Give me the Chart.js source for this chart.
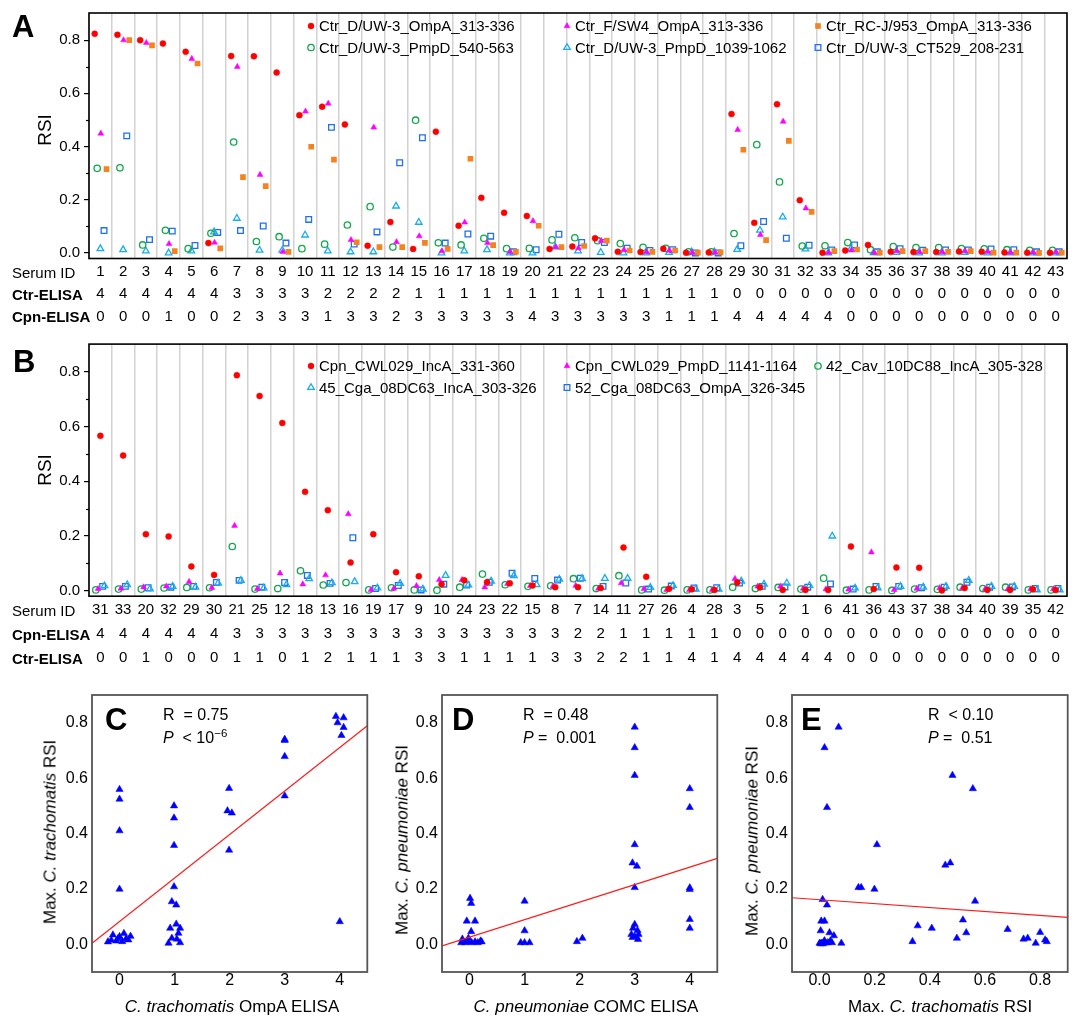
<!DOCTYPE html>
<html><head><meta charset="utf-8">
<script src="https://cdn.jsdelivr.net/npm/chart.js@4.4.1/dist/chart.umd.min.js"></script>
<style>
html,body{margin:0;padding:0;background:#fff;}
#page{position:relative;width:1079px;height:1019px;overflow:hidden;background:#fff;font-family:"Liberation Sans",Arial,Helvetica,sans-serif;color:#000;}
canvas{position:absolute;}
.t{position:absolute;white-space:nowrap;line-height:1;}
.t sup{font-size:0.72em;vertical-align:0.5em;line-height:0;}
</style></head><body>
<div id="page">
<canvas id="cA" width="1079" height="330" style="left:0;top:0"></canvas>
<canvas id="cB" width="1079" height="340" style="left:0;top:330px"></canvas>
<canvas id="cC" width="372" height="349" style="left:0;top:670px"></canvas>
<canvas id="cD" width="350" height="349" style="left:372px;top:670px"></canvas>
<canvas id="cE" width="357" height="349" style="left:722px;top:670px"></canvas>
</div>
<script>
// ---------------- DATA ----------------
const rsiTicks = [0, 0.2, 0.4, 0.6, 0.8];
const elisaTicks = [0, 1, 2, 3, 4];

// Panel A
const serumIdsA = [1,2,3,4,5,6,7,8,9,10,11,12,13,14,15,16,17,18,19,20,21,22,23,24,25,26,27,28,29,30,31,32,33,34,35,36,37,38,39,40,41,42,43];
const ctrElisaA = [4,4,4,4,4,4,3,3,3,3,2,2,2,2,1,1,1,1,1,1,1,1,1,1,1,1,1,1,0,0,0,0,0,0,0,0,0,0,0,0,0,0,0];
const cpnElisaA = [0,0,0,1,0,0,2,3,3,3,1,3,3,2,3,3,3,3,3,4,3,3,3,3,3,1,1,1,4,4,4,4,4,0,0,0,0,0,0,0,0,0,0];
const ctrD_OmpA = [0.824,0.82,0.80,0.787,0.756,0.037,0.74,0.739,0.678,0.518,0.55,0.483,0.027,0.116,0.015,0.456,0.102,0.207,0.151,0.139,0.015,0.024,0.055,0.004,0.003,0.016,0.001,0.002,0.522,0.113,0.559,0.198,0.001,0.009,0.03,0.004,0.003,0.003,0.005,0.004,0.002,0.001,0.001];
const ctrF_OmpA = [0.449,0.80,0.79,0.034,0.73,0.039,0.70,0.294,0.004,0.532,0.562,0.049,0.472,0.041,0.063,0.007,0.115,0.038,0.004,0.12,0.022,0.018,0.046,0.012,0.003,0.009,0.001,0.002,0.463,0.068,0.494,0.168,0.001,0.01,0.001,0.007,0.003,0.003,0.007,0.004,0.001,0.002,0.003];
const ctrRCJ_OmpA = [0.315,0.80,0.78,0.007,0.712,0.017,0.285,0.251,0.004,0.399,0.351,0.04,0.022,0.022,0.038,0.015,0.354,0.029,0.004,0.102,0.022,0.026,0.046,0.009,0.004,0.009,0.001,0.002,0.388,0.048,0.421,0.154,0.007,0.013,0.001,0.007,0.007,0.004,0.007,0.001,0.001,0.0,0.001];
const ctrD_PmpD540 = [0.318,0.32,0.03,0.085,0.016,0.074,0.417,0.043,0.061,0.016,0.033,0.105,0.174,0.022,0.499,0.038,0.03,0.055,0.016,0.017,0.049,0.057,0.046,0.035,0.021,0.017,0.004,0.004,0.073,0.407,0.267,0.026,0.027,0.039,0.012,0.024,0.02,0.02,0.016,0.015,0.012,0.01,0.01];
const ctrD_PmpD1039 = [0.016,0.012,0.007,0.0,0.007,0.079,0.13,0.01,0.01,0.067,0.007,0.004,0.004,0.176,0.115,0.0,0.007,0.012,0.0,0.0,0.022,0.007,0.002,0.0,0.0,0.002,0.004,0.004,0.013,0.085,0.135,0.015,0.0,0.016,0.001,0.002,0.0,0.0,0.002,0.0,0.0,0.0,0.0];
const ctrD_CT529 = [0.084,0.44,0.05,0.082,0.028,0.077,0.084,0.101,0.037,0.126,0.472,0.033,0.079,0.339,0.433,0.037,0.071,0.063,0.004,0.012,0.07,0.039,0.039,0.018,0.009,0.012,0.0,0.0,0.027,0.118,0.055,0.029,0.011,0.03,0.004,0.016,0.01,0.011,0.011,0.015,0.012,0.004,0.004];

// Panel B
const serumIdsB = [31,33,20,32,29,30,21,25,12,18,13,16,19,17,9,10,24,23,22,15,8,7,14,11,27,26,4,28,3,5,2,1,6,41,36,43,37,38,34,40,39,35,42];
const cpnElisaB = [4,4,4,4,4,4,3,3,3,3,3,3,3,3,3,3,3,3,3,3,3,2,2,1,1,1,1,1,0,0,0,0,0,0,0,0,0,0,0,0,0,0,0];
const ctrElisaB = [0,0,1,0,0,0,1,1,0,1,2,1,1,1,3,3,1,1,1,1,3,3,2,2,1,1,4,1,4,4,4,4,4,0,0,0,0,0,0,0,0,0,0];
const cpnCWL029_IncA = [0.566,0.494,0.206,0.198,0.088,0.057,0.788,0.712,0.613,0.361,0.294,0.102,0.206,0.067,0.052,0.023,0.037,0.03,0.026,0.018,0.012,0.012,0.009,0.157,0.05,0.006,0.004,0.002,0.029,0.011,0.002,0.002,0.002,0.161,0.005,0.084,0.083,0.0,0.009,0.002,0.002,0.004,0.002];
const cpnCWL029_PmpD = [0.006,0.007,0.012,0.015,0.032,0.01,0.237,0.006,0.063,0.023,0.056,0.28,0.002,0.007,0.017,0.039,0.039,0.012,0.024,0.017,0.015,0.018,0.007,0.027,0.006,0.002,0.002,0.002,0.043,0.015,0.015,0.007,0.005,0.004,0.14,0.002,0.007,0.009,0.009,0.005,0.005,0.005,0.005];
const cav10DC88_IncA = [0.002,0.005,0.005,0.009,0.011,0.01,0.161,0.005,0.007,0.072,0.02,0.029,0.002,0.01,0.002,0.001,0.012,0.06,0.021,0.015,0.017,0.043,0.007,0.054,0.002,0.001,0.002,0.002,0.012,0.007,0.011,0.005,0.045,0.001,0.002,0.0,0.005,0.004,0.012,0.007,0.012,0.002,0.002];
const cga08DC63_IncA = [0.017,0.021,0.006,0.015,0.012,0.027,0.037,0.009,0.021,0.043,0.028,0.032,0.009,0.026,0.005,0.055,0.02,0.034,0.054,0.021,0.041,0.043,0.044,0.044,0.011,0.018,0.005,0.005,0.034,0.023,0.027,0.018,0.199,0.009,0.009,0.015,0.012,0.015,0.037,0.015,0.015,0.002,0.002];
const cga08DC63_OmpA = [0.015,0.015,0.01,0.012,0.015,0.029,0.037,0.012,0.029,0.055,0.026,0.193,0.007,0.018,0.002,0.023,0.02,0.03,0.063,0.044,0.038,0.045,0.015,0.027,0.005,0.016,0.009,0.01,0.027,0.015,0.013,0.012,0.024,0.005,0.015,0.015,0.01,0.012,0.03,0.012,0.013,0.007,0.007];

// Panel C
const ctrElisaC = [0,0,0,0,-0.21,-0.15,-0.12,-0.06,-0.03,0,0.05,0.08,0.12,0.16,0.2,0.99,0.99,0.99,0.99,0.95,1.03,1.03,0.92,1.1,1.07,0.95,1.04,0.89,1.1,1.99,1.96,2.04,1.99,3,3,3,3,3.93,4.07,3.96,4.07,4.03,4.0];
const maxCtrRsiC = [0.559,0.524,0.41,0.199,0.009,0.015,0.034,0.012,0.02,0.028,0.01,0.039,0.02,0.016,0.029,0.5,0.456,0.357,0.208,0.154,0.142,0.073,0.058,0.058,0.04,0.022,0.019,0.004,0.006,0.563,0.482,0.474,0.34,0.74,0.736,0.678,0.536,0.823,0.818,0.8,0.783,0.754,0.082];
const fitCx = [-0.5, 4.5], fitCy = [0.004, 0.789];

// Panel D
const cpnElisaD = [4,4,4,4,4,4,3,3,3,3,2.96,3.04,3,3,2.97,3.05,2.94,3.07,3,3.06,2.96,1.95,2.05,1,1,0.93,1,1.09,0.01,0.03,-0.05,0.1,0.03,-0.13,-0.15,-0.08,-0.02,0.04,0.1,0.15,0.2,0.22,-0.02];
const maxCpnRsiD = [0.562,0.494,0.204,0.198,0.09,0.058,0.784,0.71,0.61,0.36,0.294,0.282,0.205,0.072,0.058,0.05,0.036,0.036,0.028,0.018,0.025,0.01,0.022,0.156,0.049,0.006,0.006,0.006,0.166,0.148,0.084,0.084,0.046,0.019,0.006,0.006,0.009,0.006,0.009,0.006,0.012,0.009,0.022];
const fitDx = [-0.5, 4.5], fitDy = [-0.006, 0.31];

// Panel E
const maxCtrRsiE = [0.069,0.018,0.027,0.482,0.556,0.208,0.456,0.474,0.141,0.151,0.199,0.564,0.011,0.027,0.006,0.018,0.004,0.036,0.052,0.079,0.0,0.008,0.018,0.03,0.039,0.337,0.356,0.407,0.498,0.52,0.532,0.682,0.74,0.755,0.784,0.8,0.818,0.824,0.012,0.022,0.045,0.016,0.004];
const maxCpnRsiE = [0.784,0.71,0.494,0.61,0.562,0.36,0.286,0.294,0.205,0.205,0.199,0.156,0.162,0.142,0.084,0.084,0.049,0.042,0.031,0.004,0.004,0.004,0.013,0.006,0.012,0.01,0.067,0.058,0.022,0.088,0.042,0.054,0.019,0.022,0.004,0.043,0.016,0.01,0.002,0.005,0.006,0.009,0.002];
const fitEx = [-0.1, 0.9], fitEy = [0.168, 0.097];

// ---------------- HELPERS ----------------
const FONT = '"Liberation Sans", Arial, Helvetica, sans-serif';
Chart.defaults.font.family = FONT;
Chart.defaults.color = '#000';
Chart.defaults.animation = false;

function drawMarker(ctx, shape, x, y, r, fill, stroke, bw) {
  ctx.save();
  ctx.beginPath();
  if (shape === 'circle') ctx.arc(x, y, r, 0, Math.PI * 2);
  else if (shape === 'triangle') {
    for (let k = 0; k < 3; k++) {
      const a = k * 2 * Math.PI / 3;
      const px = x + Math.sin(a) * r, py = y - Math.cos(a) * r;
      if (k) ctx.lineTo(px, py); else ctx.moveTo(px, py);
    }
    ctx.closePath();
  } else { const s = r * Math.SQRT1_2; ctx.rect(x - s, y - s, 2 * s, 2 * s); }
  ctx.fillStyle = fill; ctx.fill();
  if (bw > 0) { ctx.lineWidth = bw; ctx.strokeStyle = stroke; ctx.stroke(); }
  ctx.restore();
}

const legendPlugin = {
  id: 'customLegend',
  afterDraw(chart, args, o) {
    if (!o || !o.items) return;
    const ctx = chart.ctx;
    ctx.save();
    ctx.font = '15px ' + FONT;
    ctx.textBaseline = 'middle';
    o.items.forEach(it => {
      const ds = chart.data.datasets[it.ds];
      drawMarker(ctx, ds.pointStyle, it.x, it.y, ds.pointRadius, ds.pointBackgroundColor, ds.pointBorderColor, ds.pointBorderWidth);
      ctx.fillStyle = '#000';
      ctx.fillText(ds.label, it.x + 8, it.y + 1);
    });
    ctx.restore();
  }
};
const framePlugin = {
  id: 'frame',
  afterDraw(chart, args, o) {
    const { left, top, right, bottom } = chart.chartArea;
    const ctx = chart.ctx;
    ctx.save();
    ctx.strokeStyle = o.color || '#000';
    ctx.lineWidth = o.width || 1.5;
    ctx.strokeRect(left, top, right - left, bottom - top);
    ctx.restore();
  }
};
const minorTickPlugin = {
  id: 'minorTicks',
  afterDraw(chart, args, o) {
    if (!o || !o.values) return;
    const ys = chart.scales.y, ctx = chart.ctx, left = chart.chartArea.left;
    ctx.save();
    ctx.strokeStyle = '#000'; ctx.lineWidth = 1.2;
    o.values.forEach(v => {
      const p = Math.round(ys.getPixelForValue(v)) + 0.5;
      ctx.beginPath(); ctx.moveTo(left - o.len, p); ctx.lineTo(left, p); ctx.stroke();
    });
    ctx.restore();
  }
};

const STY = {
  red:  { shape: 'circle',   r: 3.0, fill: '#ff0000', stroke: '#ff0000', bw: 0.5 },
  mag:  { shape: 'triangle', r: 3.4, fill: '#ff00ff', stroke: '#ff00ff', bw: 0.5 },
  ora:  { shape: 'rect',     r: 4.0, fill: '#f5821f', stroke: '#f5821f', bw: 0 },
  grn:  { shape: 'circle',   r: 3.2, fill: 'rgba(0,0,0,0)', stroke: '#11a84b', bw: 1.3 },
  cya:  { shape: 'triangle', r: 3.8, fill: 'rgba(0,0,0,0)', stroke: '#17adee', bw: 1.3 },
  blu:  { shape: 'rect',     r: 4.0, fill: 'rgba(0,0,0,0)', stroke: '#1e6ff1', bw: 1.3 }
};

function makeStrip(canvasId, o) {
  const datasets = o.series.map(s => ({
    label: s.label,
    data: s.values.map((v, i) => ({ x: i + 1 + s.dx, y: v })),
    pointStyle: s.st.shape, pointRadius: s.st.r, pointHoverRadius: s.st.r,
    pointBackgroundColor: s.st.fill, pointBorderColor: s.st.stroke, pointBorderWidth: s.st.bw,
    showLine: false
  }));
  return new Chart(document.getElementById(canvasId), {
    type: 'scatter',
    data: { datasets },
    options: {
      responsive: false, animation: false, events: [],
      layout: { padding: { left: 0, right: o.padRight, top: o.padTop, bottom: 0 } },
      plugins: {
        legend: { display: false }, tooltip: { enabled: false },
        customLegend: { items: o.legendItems },
        frame: { color: '#000', width: 1.6 },
        minorTicks: { values: [0.1, 0.3, 0.5, 0.7], len: 3 }
      },
      scales: {
        x: {
          type: 'linear', min: 0.5, max: o.ids.length + 0.5,
          afterBuildTicks: s => { s.ticks = o.ids.map((_, i) => ({ value: i + 1 })); },
          afterFit: s => { s.height = o.xHeight; },
          grid: { offset: true, color: '#d2d2d2', lineWidth: 1.5, drawTicks: false },
          border: { display: false },
          ticks: { autoSkip: false, maxRotation: 0, minRotation: 0, padding: 2,
                   font: { size: 15, lineHeight: o.lineHeight },
                   callback: (v, i) => [String(o.ids[i]), String(o.row2[i]), String(o.row3[i])] }
        },
        y: {
          type: 'linear', min: -0.021, max: 0.902,
          afterBuildTicks: s => { s.ticks = rsiTicks.map(v => ({ value: v })); },
          afterFit: s => { s.width = 89; },
          grid: { drawOnChartArea: false, tickLength: 5, color: '#000', lineWidth: 1.2 },
          border: { display: false },
          ticks: { padding: 4, font: { size: 15 }, callback: v => v.toFixed(1) }
        }
      }
    },
    plugins: [legendPlugin, framePlugin, minorTickPlugin]
  });
}

function makeScatter(canvasId, o) {
  return new Chart(document.getElementById(canvasId), {
    type: 'scatter',
    data: { datasets: [
      { data: o.xs.map((x, i) => ({ x, y: o.ys[i] })), pointStyle: 'triangle', pointRadius: 4.2, pointHoverRadius: 4.2,
        pointBackgroundColor: '#0000ff', pointBorderColor: '#0000ff', pointBorderWidth: 0.5, showLine: false, order: 2 },
      { type: 'line', data: o.fitX.map((x, i) => ({ x, y: o.fitY[i] })), borderColor: '#ff1a1a', borderWidth: 1.2,
        pointRadius: 0, fill: false, showLine: true, order: 1 }
    ] },
    options: {
      responsive: false, animation: false, events: [],
      layout: { padding: { left: 0, right: o.padRight, top: 25, bottom: 0 } },
      plugins: { legend: { display: false }, tooltip: { enabled: false }, frame: { color: '#555', width: 1.8 } },
      scales: {
        x: {
          type: 'linear', min: o.xMin, max: o.xMax,
          afterBuildTicks: s => { s.ticks = o.xTicks.map(v => ({ value: v })); },
          afterFit: s => { s.height = 47; },
          grid: { drawOnChartArea: false, drawTicks: false },
          border: { display: false },
          ticks: { padding: 1, font: { size: 16, lineHeight: 1 }, callback: o.xFmt }
        },
        y: {
          type: 'linear', min: -0.1, max: 0.9,
          afterBuildTicks: s => { s.ticks = rsiTicks.map(v => ({ value: v })); },
          afterFit: s => { s.width = o.yWidth; },
          grid: { drawOnChartArea: false, drawTicks: false },
          border: { display: false },
          ticks: { padding: 4, font: { size: 16 }, callback: v => v.toFixed(1) }
        }
      }
    },
    plugins: [framePlugin]
  });
}

// ---------------- CHARTS ----------------
makeStrip('cA', {
  ids: serumIdsA, row2: ctrElisaA, row3: cpnElisaA,
  padTop: 6, padRight: 12, xHeight: 71.5, lineHeight: 1.5,
  series: [
    { label: 'Ctr_D/UW-3_OmpA_313-336',    values: ctrD_OmpA,     st: STY.red, dx: -0.25 },
    { label: 'Ctr_F/SW4_OmpA_313-336',     values: ctrF_OmpA,     st: STY.mag, dx: 0.02 },
    { label: 'Ctr_RC-J/953_OmpA_313-336',  values: ctrRCJ_OmpA,   st: STY.ora, dx: 0.27 },
    { label: 'Ctr_D/UW-3_PmpD_540-563',    values: ctrD_PmpD540,  st: STY.grn, dx: -0.14 },
    { label: 'Ctr_D/UW-3_PmpD_1039-1062',  values: ctrD_PmpD1039, st: STY.cya, dx: 0.0 },
    { label: 'Ctr_D/UW-3_CT529_208-231',   values: ctrD_CT529,    st: STY.blu, dx: 0.16 }
  ],
  legendItems: [
    { ds: 0, x: 311, y: 26 }, { ds: 1, x: 567, y: 26 }, { ds: 2, x: 818, y: 26 },
    { ds: 3, x: 311, y: 47.5 }, { ds: 4, x: 567, y: 47.5 }, { ds: 5, x: 818, y: 47.5 }
  ]
});

makeStrip('cB', {
  ids: serumIdsB, row2: cpnElisaB, row3: ctrElisaB,
  padTop: 14.1, padRight: 12, xHeight: 73.8, lineHeight: 1.6,
  series: [
    { label: 'Cpn_CWL029_IncA_331-360',    values: cpnCWL029_IncA, st: STY.red, dx: 0.0 },
    { label: 'Cpn_CWL029_PmpD_1141-1164',  values: cpnCWL029_PmpD, st: STY.mag, dx: -0.1 },
    { label: '42_Cav_10DC88_IncA_305-328', values: cav10DC88_IncA, st: STY.grn, dx: -0.2 },
    { label: '45_Cga_08DC63_IncA_303-326', values: cga08DC63_IncA, st: STY.cya, dx: 0.18 },
    { label: '52_Cga_08DC63_OmpA_326-345', values: cga08DC63_OmpA, st: STY.blu, dx: 0.1 }
  ],
  legendItems: [
    { ds: 0, x: 311, y: 36 }, { ds: 1, x: 567, y: 36 }, { ds: 2, x: 818, y: 36 },
    { ds: 3, x: 311, y: 57.5 }, { ds: 4, x: 567, y: 57.5 }
  ]
});

makeScatter('cC', { xs: ctrElisaC, ys: maxCtrRsiC, fitX: fitCx, fitY: fitCy, xMin: -0.5, xMax: 4.5,
  xTicks: elisaTicks, xFmt: v => String(v), yWidth: 92, padRight: 4 });
makeScatter('cD', { xs: cpnElisaD, ys: maxCpnRsiD, fitX: fitDx, fitY: fitDy, xMin: -0.5, xMax: 4.5,
  xTicks: elisaTicks, xFmt: v => String(v), yWidth: 70, padRight: 3.7 });
makeScatter('cE', { xs: maxCtrRsiE, ys: maxCpnRsiE, fitX: fitEx, fitY: fitEy, xMin: -0.1, xMax: 0.9,
  xTicks: rsiTicks, xFmt: v => v.toFixed(1), yWidth: 70, padRight: 11.3 });

// ---------------- TEXT OVERLAYS ----------------
const page = document.getElementById('page');
function txt(html, o) {
  const d = document.createElement('div');
  d.className = 't';
  d.innerHTML = html;
  d.style.fontSize = o.size + 'px';
  if (o.bold) d.style.fontWeight = 'bold';
  if (o.rotate) {
    d.style.left = o.cx + 'px'; d.style.top = o.cy + 'px';
    d.style.transform = 'translate(-50%,-50%) rotate(-90deg)';
  } else if (o.cx !== undefined) {
    d.style.left = o.cx + 'px'; d.style.top = o.cy + 'px';
    d.style.transform = 'translate(-50%,-50%)';
  } else {
    d.style.left = o.left + 'px'; d.style.top = (o.cy - o.size / 2) + 'px';
  }
  page.appendChild(d);
}
// Panel A
txt('A', { left: 12, cy: 26.5, size: 31, bold: true });
txt('RSI', { cx: 44, cy: 130, size: 19, rotate: true });
txt('Serum ID', { left: 12, cy: 272, size: 15 });
txt('Ctr-ELISA', { left: 12, cy: 294, size: 15, bold: true });
txt('Cpn-ELISA', { left: 12, cy: 316, size: 15, bold: true });
// Panel B
txt('B', { left: 13, cy: 361.5, size: 31, bold: true });
txt('RSI', { cx: 44, cy: 470, size: 19, rotate: true });
txt('Serum ID', { left: 12, cy: 610, size: 15 });
txt('Cpn-ELISA', { left: 12, cy: 634, size: 15, bold: true });
txt('Ctr-ELISA', { left: 12, cy: 658, size: 15, bold: true });
// Panel C
txt('C', { left: 105, cy: 719, size: 31, bold: true });
txt('R&nbsp; = 0.75', { left: 163, cy: 715, size: 16 });
txt('<i>P</i>&nbsp; &lt; 10<sup>&minus;6</sup>', { left: 163, cy: 738, size: 16 });
txt('Max. <i>C. trachomatis</i> RSI', { cx: 50, cy: 832, size: 17, rotate: true });
txt('<i>C. trachomatis</i> OmpA ELISA', { cx: 232, cy: 1006, size: 17 });
// Panel D
txt('D', { left: 452, cy: 719, size: 31, bold: true });
txt('R&nbsp; = 0.48', { left: 523, cy: 715, size: 16 });
txt('<i>P</i> = &nbsp;0.001', { left: 523, cy: 738, size: 16 });
txt('Max. <i>C. pneumoniae</i> RSI', { cx: 402, cy: 840, size: 17, rotate: true });
txt('<i>C. pneumoniae</i> COMC ELISA', { cx: 586, cy: 1006, size: 17 });
// Panel E
txt('E', { left: 801, cy: 719, size: 31, bold: true });
txt('R&nbsp; &lt; 0.10', { left: 928, cy: 715, size: 16 });
txt('<i>P</i> = &nbsp;0.51', { left: 928, cy: 738, size: 16 });
txt('Max. <i>C. pneumoniae</i> RSI', { cx: 752, cy: 841, size: 17, rotate: true });
txt('Max. <i>C. trachomatis</i> RSI', { cx: 940, cy: 1006, size: 17 });
</script>
</body></html>
